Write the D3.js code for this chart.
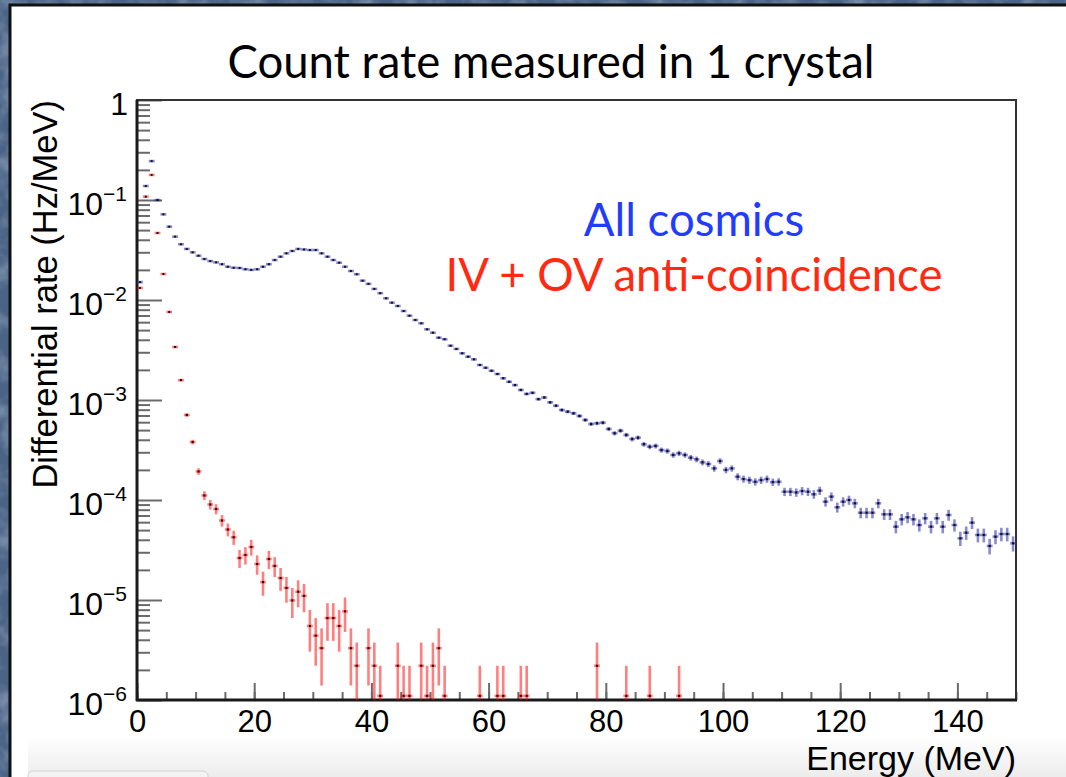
<!DOCTYPE html>
<html>
<head>
<meta charset="utf-8">
<script src="https://cdn.jsdelivr.net/npm/d3@7"></script>
<style>
  html, body { margin: 0; padding: 0; background: #4a6386; overflow: hidden; }
  svg { display: block; }
</style>
</head>
<body>
<svg id="chart" width="1066" height="777"></svg>
<script>
// Energy binning (MeV) and axis ranges
const energyRange = [0, 150];
const binWidth = 1;
const rateRange = [1e-6, 1];

// Tick labels
const energyTicksMajor = [0, 20, 40, 60, 80, 100, 120, 140];
const rateDecades = [-6, -5, -4, -3, -2, -1, 0];

// Rate contributed by a single event in one bin (Hz/MeV)
const rateUnit = 1.1e-6;

// All cosmics, differential rate per 1 MeV bin (Hz/MeV), bins 0-149
const allCosmics = [
  0.0151, 0.138, 0.245, 0.100, 0.0719, 0.0541, 0.0430, 0.0361, 0.0324, 0.0300,
  0.0277, 0.0257, 0.0245, 0.0238, 0.0228, 0.0215, 0.0210, 0.0209, 0.0203, 0.0200,
  0.0203, 0.0215, 0.0228, 0.0251, 0.0271, 0.0293, 0.0309, 0.0324, 0.0320, 0.0316,
  0.0316, 0.0293, 0.0271, 0.0251, 0.0236, 0.0215, 0.0195, 0.0181, 0.0156, 0.0145,
  0.0129, 0.0117, 0.0104, 0.00940, 0.00871, 0.00776, 0.00697, 0.00631, 0.00585, 0.00509,
  0.00471, 0.00420, 0.00405, 0.00349, 0.00324, 0.00293, 0.00271, 0.00255, 0.00224, 0.00210,
  0.00196, 0.00182, 0.00165, 0.00152, 0.00141, 0.00126, 0.00115, 0.00118, 0.00102, 0.00106,
  0.000948, 0.000877, 0.000794, 0.000764, 0.000736, 0.000692, 0.000631, 0.000575, 0.000585, 0.000593,
  0.000513, 0.000465, 0.000493, 0.000447, 0.000407, 0.000420, 0.000361, 0.000341, 0.000347, 0.000316,
  0.000309, 0.000282, 0.000293, 0.000282, 0.000265, 0.000255, 0.000238, 0.000229, 0.000207, 0.000245,
  0.000200, 0.000207, 0.000171, 0.000162, 0.000158, 0.000152, 0.000158, 0.000162, 0.000151, 0.000152,
  0.000121, 0.000121, 0.000119, 0.000123, 0.000121, 0.000114, 0.000124, 0.0000962, 0.000108, 0.0000845,
  0.0000962, 0.000100, 0.0000927, 0.0000746, 0.0000746, 0.0000746, 0.0000927, 0.0000719, 0.0000719, 0.0000541,
  0.0000641, 0.0000671, 0.0000641, 0.0000562, 0.0000656, 0.0000541, 0.0000656, 0.0000541, 0.0000708, 0.0000562,
  0.0000414, 0.0000471, 0.0000593, 0.0000447, 0.0000447, 0.0000347, 0.0000430, 0.0000457, 0.0000457, 0.0000369
];

// IV + OV anti-coincidence, bins 0-92 (0 = empty bin)
const antiCoincidence = [
  0.0132, 0.108, 0.178, 0.0468, 0.0182, 0.00759, 0.00339, 0.00158, 0.000708, 0.000380,
  0.000193, 0.000111, 0.0000902, 0.0000813, 0.0000624, 0.0000507, 0.0000424, 0.0000263, 0.0000282, 0.0000339,
  0.0000229, 0.0000151, 0.0000257, 0.0000219, 0.0000166, 0.0000132, 0.0000099, 0.0000121, 0.0000110, 0.0000055,
  0.0000044, 0.0000033, 0.0000066, 0.0000066, 0.0000055, 0.0000077, 0.0000033, 0.0000022, 0, 0.0000033,
  0.0000022, 0.0000011, 0, 0, 0.0000022, 0.0000011, 0.0000011, 0, 0.0000022, 0.0000011,
  0.0000022, 0.0000033, 0.0000011, 0, 0, 0, 0, 0, 0.0000011, 0,
  0, 0.0000011, 0.0000011, 0, 0, 0.0000011, 0.0000011, 0, 0, 0,
  0, 0, 0, 0, 0, 0, 0, 0, 0.0000022, 0,
  0, 0, 0, 0.0000011, 0, 0, 0, 0.0000011, 0, 0,
  0, 0, 0.0000011
];

const svg = d3.select("#chart");
const W = 1066, H = 777;
const plot = { left: 137, right: 1016, top: 100, bottom: 700 };

const x = d3.scaleLinear().domain(energyRange).range([plot.left, plot.right]);
const y = d3.scaleLog().domain(rateRange).range([plot.bottom, plot.top]);

const defs = svg.append("defs");

// mottled slide background
const grain = defs.append("filter").attr("id", "grain")
  .attr("x", 0).attr("y", 0).attr("width", "100%").attr("height", "100%");
grain.append("feTurbulence").attr("type", "fractalNoise")
  .attr("baseFrequency", 0.045).attr("numOctaves", 3).attr("seed", 7);
grain.append("feColorMatrix").attr("type", "matrix")
  .attr("values", "0 0 0 0 0.78  0 0 0 0 0.85  0 0 0 0 0.95  1.6 0 0 0 -0.65");

defs.append("clipPath").attr("id", "plotClip")
  .append("rect")
  .attr("x", plot.left).attr("y", plot.top)
  .attr("width", plot.right - plot.left).attr("height", plot.bottom - plot.top);

const shade = defs.append("linearGradient").attr("id", "shade")
  .attr("x1", 0).attr("y1", 0).attr("x2", 0).attr("y2", 1);
shade.append("stop").attr("offset", 0).attr("stop-color", "#ffffff");
shade.append("stop").attr("offset", 1).attr("stop-color", "#ececec");

svg.append("rect").attr("width", W).attr("height", H).attr("fill", "#4a6386");
svg.append("rect").attr("width", W).attr("height", H).attr("filter", "url(#grain)").attr("opacity", 0.45);

// white slide panel
svg.append("rect")
  .attr("x", 10).attr("y", 5).attr("width", W + 20).attr("height", H + 20)
  .attr("fill", "#ffffff").attr("stroke", "#111111").attr("stroke-width", 3);

// faint box below the panel content
svg.append("rect").attr("x", 28).attr("y", 737).attr("width", W).attr("height", 40)
  .attr("fill", "url(#shade)");
svg.append("rect").attr("x", 28).attr("y", 771).attr("width", 180).attr("height", 20)
  .attr("rx", 5).attr("fill", "#f3f3f3").attr("stroke", "#d4d4d4").attr("stroke-width", 1);

// title
svg.append("text")
  .attr("x", 551).attr("y", 78)
  .attr("text-anchor", "middle")
  .attr("font-family", "Lato, 'Open Sans', sans-serif")
  .attr("font-size", 45.5)
  .attr("fill", "#000")
  .text("Count rate measured in 1 crystal");

// axes
const axisFont = "'Liberation Sans', Arial, Helvetica, sans-serif";

const xMinor = d3.range(energyRange[0], energyRange[1] + 0.001, 5);
svg.append("g")
  .attr("transform", `translate(0,${plot.bottom})`)
  .call(d3.axisBottom(x).tickValues(xMinor).tickSizeInner(-8).tickSizeOuter(0).tickFormat(""))
  .call(g => g.select(".domain").remove())
  .call(g => g.selectAll(".tick line").attr("stroke", "#6a6a6a").attr("stroke-width", 2));

svg.append("g")
  .attr("transform", `translate(0,${plot.bottom})`)
  .call(d3.axisBottom(x).tickValues(energyTicksMajor).tickSizeInner(-17).tickSizeOuter(0).tickPadding(10))
  .call(g => g.select(".domain").remove())
  .call(g => g.selectAll(".tick line").attr("stroke", "#6a6a6a").attr("stroke-width", 2))
  .call(g => g.selectAll(".tick text")
    .attr("font-family", axisFont).attr("font-size", 31).attr("fill", "#000"));

const yMinor = [];
rateDecades.slice(0, -1).forEach(k => {
  for (let m = 2; m <= 9; m++) yMinor.push(m * Math.pow(10, k));
});
svg.append("g")
  .attr("transform", `translate(${plot.left},0)`)
  .call(d3.axisLeft(y).tickValues(yMinor).tickSizeInner(-13).tickSizeOuter(0).tickFormat(""))
  .call(g => g.select(".domain").remove())
  .call(g => g.selectAll(".tick line").attr("stroke", "#6a6a6a").attr("stroke-width", 2));

const yMajor = rateDecades.map(k => Math.pow(10, k));
svg.append("g")
  .attr("transform", `translate(${plot.left},0)`)
  .call(d3.axisLeft(y).tickValues(yMajor).tickSizeInner(-25).tickSizeOuter(0).tickPadding(10).tickFormat(""))
  .call(g => g.select(".domain").remove())
  .call(g => g.selectAll(".tick line").attr("stroke", "#6a6a6a").attr("stroke-width", 2))
  .call(g => g.selectAll(".tick text").each(function(d) {
    const k = Math.round(Math.log10(d));
    const t = d3.select(this)
      .attr("font-family", axisFont).attr("font-size", 32).attr("fill", "#000")
      .attr("dy", null).attr("y", 14);
    if (k === 0) {
      t.attr("x", -9).text("1");
    } else {
      t.attr("x", -10);
      t.append("tspan").text("10");
      t.append("tspan").attr("font-size", 21).attr("dy", -14).text("\u2212" + Math.abs(k));
    }
  }));

// frame
svg.append("rect")
  .attr("x", plot.left).attr("y", plot.top)
  .attr("width", plot.right - plot.left).attr("height", plot.bottom - plot.top)
  .attr("fill", "none").attr("stroke", "#333333").attr("stroke-width", 2);
svg.append("line")
  .attr("x1", plot.left).attr("x2", plot.left).attr("y1", plot.top).attr("y2", plot.bottom + 1)
  .attr("stroke", "#1a1a1a").attr("stroke-width", 3);
svg.append("line")
  .attr("x1", plot.left - 1).attr("x2", plot.right + 1).attr("y1", plot.bottom).attr("y2", plot.bottom)
  .attr("stroke", "#1a1a1a").attr("stroke-width", 3);

// axis titles
svg.append("text")
  .attr("transform", `translate(57,${plot.top}) rotate(-90)`)
  .attr("text-anchor", "end")
  .attr("font-family", axisFont).attr("font-size", 34.5).attr("fill", "#000")
  .text("Differential rate (Hz/MeV)");

svg.append("text")
  .attr("x", plot.right).attr("y", 770)
  .attr("text-anchor", "end")
  .attr("font-family", axisFont).attr("font-size", 34).attr("fill", "#000")
  .text("Energy (MeV)");

// histogram points with Poisson error bars
function drawSeries(values, color, opacity) {
  const pts = values
    .map((v, i) => ({ lo: energyRange[0] + i * binWidth, hi: energyRange[0] + (i + 1) * binWidth, v }))
    .filter(d => d.v > 0)
    .map(d => ({ ...d, err: Math.sqrt(d.v * rateUnit) }));

  const g = svg.append("g").attr("clip-path", "url(#plotClip)");
  const bars = g.append("g")
    .attr("stroke", color).attr("stroke-opacity", opacity).attr("stroke-width", 2.6)
    .attr("stroke-linecap", "butt");
  bars.selectAll("line.h").data(pts).join("line").attr("class", "h")
    .attr("x1", d => x(d.lo)).attr("x2", d => x(d.hi))
    .attr("y1", d => y(d.v)).attr("y2", d => y(d.v));
  bars.selectAll("line.v").data(pts).join("line").attr("class", "v")
    .attr("x1", d => x((d.lo + d.hi) / 2)).attr("x2", d => x((d.lo + d.hi) / 2))
    .attr("y1", d => y(d.v + d.err))
    .attr("y2", d => (d.v - d.err > rateRange[0] * 0.5 ? y(d.v - d.err) : plot.bottom + 10));
  g.append("g").selectAll("rect").data(pts).join("rect")
    .attr("x", d => x((d.lo + d.hi) / 2) - 1).attr("y", d => y(d.v) - 1)
    .attr("width", 2).attr("height", 2)
    .attr("fill", "#000").attr("fill-opacity", 0.85);
}

drawSeries(allCosmics, "#2a2aa8", 0.55);
drawSeries(antiCoincidence, "#ff0000", 0.5);

// legend text
const legendFont = "Lato, 'Open Sans', sans-serif";
svg.append("text")
  .attr("x", 694).attr("y", 236).attr("text-anchor", "middle")
  .attr("font-family", legendFont).attr("font-size", 45.5).attr("fill", "#1f3cff")
  .text("All cosmics");
svg.append("text")
  .attr("x", 694).attr("y", 291).attr("text-anchor", "middle")
  .attr("font-family", legendFont).attr("font-size", 45.5).attr("fill", "#ff2a10")
  .text("IV + OV anti-coincidence");
</script>
</body>
</html>
